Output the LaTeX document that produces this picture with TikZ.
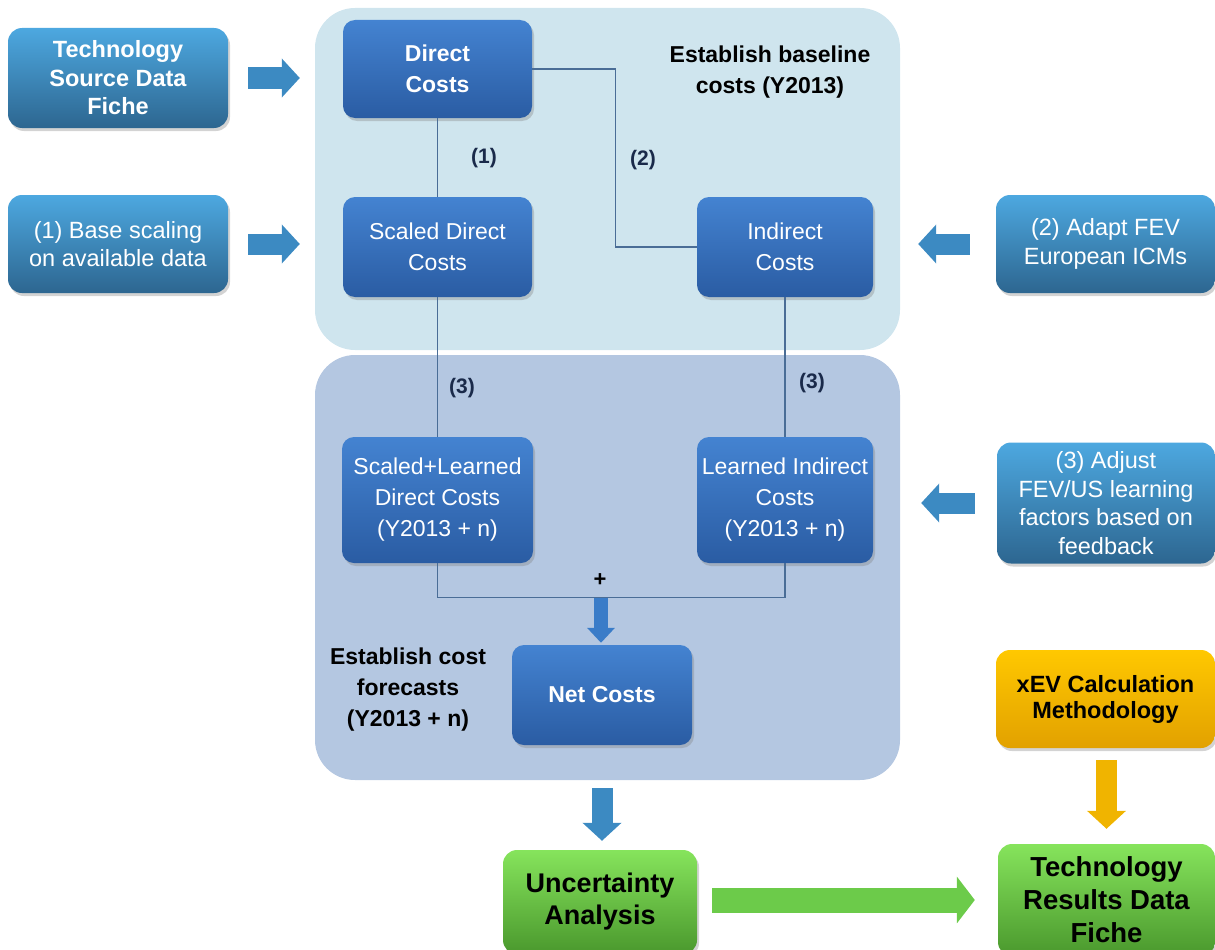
\documentclass[tikz,border=0pt]{standalone}
\usepackage{fontspec}
\setmainfont{Liberation Sans}
\usetikzlibrary{shadows,arrows.meta}
\definecolor{panelA}{HTML}{CFE5EE}
\definecolor{panelB}{HTML}{B4C7E1}
\definecolor{nbT}{HTML}{4483D1}
\definecolor{nbB}{HTML}{2A5CA3}
\definecolor{sbT}{HTML}{4DA8E0}
\definecolor{sbB}{HTML}{2D6690}
\definecolor{grT}{HTML}{86E45C}
\definecolor{grB}{HTML}{4A982D}
\definecolor{ywT}{HTML}{FFC800}
\definecolor{ywB}{HTML}{E2A100}
\definecolor{navy}{HTML}{1A2A4A}
\definecolor{connc}{HTML}{4A6D96}
\definecolor{fatb}{HTML}{3C8AC2}
\definecolor{fatn}{HTML}{3A7CC8}
\definecolor{fatg}{HTML}{6CCB4A}
\definecolor{faty}{HTML}{F0B400}
\tikzset{
  box/.style={align=center, inner sep=0pt, rounded corners=12pt,
    drop shadow={opacity=0.35, shadow xshift=2pt, shadow yshift=-3pt}},
  bluebox/.style={box, top color=nbT, bottom color=nbB, text=white,
    font=\fontsize{23}{31}\selectfont},
  sidebox/.style={box, rounded corners=14pt, top color=sbT, bottom color=sbB, text=white,
    font=\fontsize{23.5}{28.5}\selectfont},
  greenbox/.style={box, rounded corners=14pt, top color=grT, bottom color=grB, text=black,
    font=\fontsize{27}{32}\selectfont\bfseries},
  yellowbox/.style={box, rounded corners=14pt, top color=ywT, bottom color=ywB, text=black,
    font=\fontsize{23.5}{26}\selectfont\bfseries},
  conn/.style={draw=connc, line width=1.4pt},
  numlabel/.style={text=navy, font=\fontsize{21}{24}\selectfont\bfseries},
  fat/.style={line width=21pt, -{Triangle[width=38pt,length=18pt]}},
  fatsmall/.style={line width=14pt, -{Triangle[width=27pt,length=15pt]}},
  heading/.style={align=center, font=\fontsize{23}{31}\selectfont\bfseries, text=black}
}
\begin{document}
\begin{tikzpicture}[x=1pt,y=-1pt]
\useasboundingbox (0,0) rectangle (1215,950);
% panels
\fill[panelA, rounded corners=40pt] (315,8) rectangle (900,350);
\fill[panelB, rounded corners=40pt] (315,355) rectangle (900,780);

% main nodes
\node[bluebox, minimum width=189pt, minimum height=98pt] (direct) at (437.5,69) {\bfseries Direct\\\bfseries Costs};
\node[bluebox, minimum width=189pt, minimum height=100pt] (scaled) at (437.5,247) {Scaled Direct\\Costs};
\node[bluebox, minimum width=176pt, minimum height=100pt] (indirect) at (785,247) {Indirect\\Costs};
\node[bluebox, minimum width=191pt, minimum height=126pt] (sl) at (437.5,500) {Scaled+Learned\\Direct Costs\\(Y2013 + n)};
\node[bluebox, minimum width=176pt, minimum height=126pt] (li) at (785,500) {Learned Indirect\\Costs\\(Y2013 + n)};
\node[bluebox, minimum width=180pt, minimum height=100pt] (net) at (602,695) {\bfseries Net Costs};

% side boxes
\node[sidebox, minimum width=220pt, minimum height=100pt] (tsd) at (118,78) {\bfseries Technology\\\bfseries Source Data\\\bfseries Fiche};
\node[sidebox, minimum width=220pt, minimum height=98pt] (base) at (118,244) {(1) Base scaling\\on available data};
\node[sidebox, minimum width=219pt, minimum height=98pt] (adapt) at (1105.5,244) {(2) Adapt FEV\\European ICMs};
\node[sidebox, minimum width=218pt, minimum height=121pt] (adjust) at (1106,503) {(3) Adjust\\FEV/US learning\\factors based on\\feedback};
\node[yellowbox, minimum width=219pt, minimum height=98pt] (xev) at (1105.5,699) {xEV Calculation\\Methodology};
\node[greenbox, minimum width=194pt, minimum height=104pt] (unc) at (600,902) {Uncertainty\\Analysis};
\node[greenbox, font=\fontsize{27.5}{33}\selectfont\bfseries, minimum width=217pt, minimum height=112pt] (res) at (1106.5,900) {Technology\\Results Data\\Fiche};

% headings
\node[heading] (h1) at (770,72) {Establish baseline\\costs (Y2013)};
\node[heading] (h2) at (408,690) {Establish cost\\forecasts\\(Y2013 + n)};

% connectors
\draw[conn] (direct.south) -- (scaled.north);
\draw[conn] (direct.east) -- ++(83,0) |- (indirect.west);
\draw[conn] (scaled.south) -- (sl.north);
\draw[conn] (indirect.south) -- (li.north);
\draw[conn] (sl.south) -- ++(0,34) coordinate (sumL) -| (li.south);
\coordinate (sum) at (601,598);

\node[numlabel] (l1) at (484,158) {(1)};
\node[numlabel] (l2) at (643,160) {(2)};
\node[numlabel] (l3a) at (462,388) {(3)};
\node[numlabel] (l3b) at (812,383) {(3)};
\node[font=\fontsize{22}{24}\selectfont\bfseries] (plus) at (600,580) {+};

% fat arrows
\draw[fat, fatb, shorten <=20pt, shorten >=43pt] (tsd.east) -- (tsd.east -| direct.west);
\draw[fat, fatb, shorten <=20pt, shorten >=43pt] (base.east) -- (base.east -| scaled.west);
\draw[fat, fatb, shorten <=26pt, shorten >=45pt] (adapt.west) -- (adapt.west -| indirect.east);
\draw[fat, fatb, shorten <=22pt, shorten >=48pt] (adjust.west) -- (adjust.west -| li.east);
\draw[fatsmall, fatn, shorten >=2pt] (sum) -- (net.north -| sum);
\draw[fat, fatb, shorten <=8pt, shorten >=9pt] (net.south |- 0,780) -- (unc.north -| net.south);
\draw[fat, faty, shorten <=12pt, shorten >=15pt] (xev.south -| 1106.5,0) -- (res.north);
\draw[line width=25pt, fatg, -{Triangle[width=46pt,length=18pt]}, shorten <=15pt, shorten >=23pt] (unc.east |- 0,900) -- (res.west |- 0,900);
\end{tikzpicture}
\end{document}
